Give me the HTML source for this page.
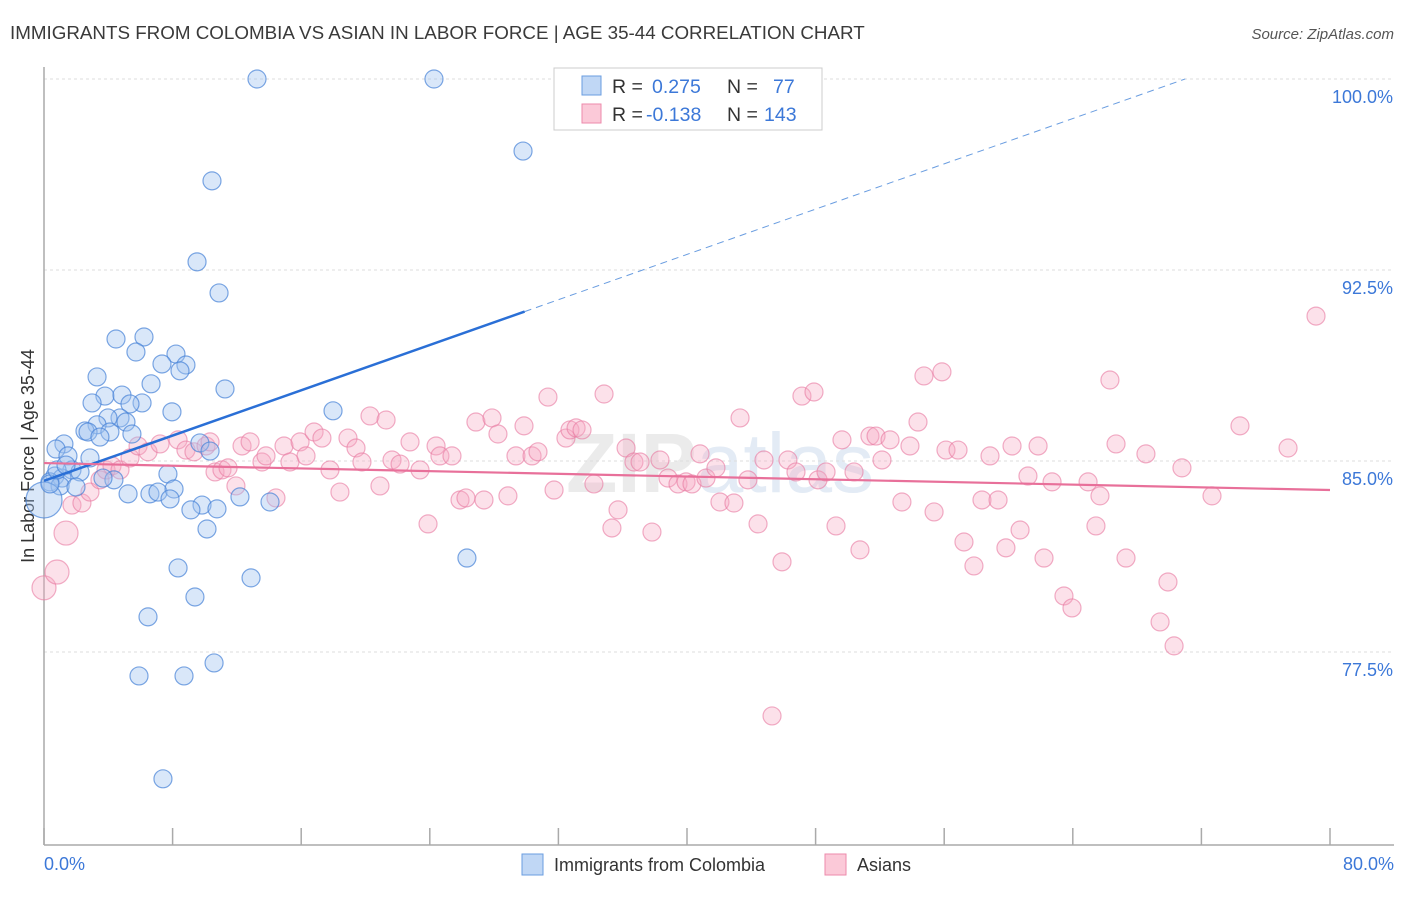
<!DOCTYPE html>
<html><head><meta charset="utf-8"><style>
body{margin:0;background:#fff;font-family:"Liberation Sans",sans-serif;}
svg text{font-family:"Liberation Sans",sans-serif;}
</style></head><body>
<svg id="chart" width="1406" height="892" viewBox="0 0 1406 892" xmlns="http://www.w3.org/2000/svg">
<text x="10" y="39" font-size="18.8" fill="#3a3a3a">IMMIGRANTS FROM COLOMBIA VS ASIAN IN LABOR FORCE | AGE 35-44 CORRELATION CHART</text>
<text x="1394" y="39" font-size="15" fill="#555" text-anchor="end" font-style="italic">Source: ZipAtlas.com</text>
<text x="720" y="492" font-size="84" fill="#ebebeb" text-anchor="middle" font-weight="bold">ZIP<tspan font-weight="normal" fill="#e3ebf5">atlas</tspan></text>
<g id="grid"></g>
<line x1="44" y1="67" x2="44" y2="845" stroke="#aaa" stroke-width="1.5"/>
<line x1="44" y1="845" x2="1394" y2="845" stroke="#aaa" stroke-width="1.5"/>
<g id="ticks"></g>
<text transform="translate(34,456) rotate(-90)" font-size="18" fill="#333" text-anchor="middle">In Labor Force | Age 35-44</text>
<text x="44" y="870" font-size="18" fill="#3c78d8">0.0%</text>
<text x="1394" y="870" font-size="18" fill="#3c78d8" text-anchor="end">80.0%</text>
<g id="points-pink"></g>
<g id="points-blue"></g>
<g id="lines"></g>
<g>
<rect x="554" y="68" width="268" height="62" fill="#fff" stroke="#ccc"/>
<rect x="582" y="76" width="19" height="19" fill="#c0d7f5" stroke="#6a9de0"/>
<rect x="582" y="104" width="19" height="19" fill="#fbc9d8" stroke="#ec8aab"/>
<text x="612" y="93" font-size="19.5" fill="#333">R = <tspan x="652" fill="#3c78d8">0.275</tspan><tspan x="727" fill="#333">N =</tspan><tspan x="773" fill="#3c78d8">77</tspan></text>
<text x="612" y="121" font-size="19.5" fill="#333">R = <tspan x="646" fill="#3c78d8">-0.138</tspan><tspan x="727" fill="#333">N =</tspan><tspan x="764" fill="#3c78d8">143</tspan></text>
</g>
<rect x="522" y="854" width="21" height="21" fill="#c0d7f5" stroke="#6a9de0"/>
<text x="554" y="871" font-size="18" fill="#333">Immigrants from Colombia</text>
<rect x="825" y="854" width="21" height="21" fill="#fbc9d8" stroke="#ec8aab"/>
<text x="857" y="871" font-size="18" fill="#333">Asians</text>
</svg>
<script>
const yTicks=[100,92.5,85,77.5];
const yTickLabels=["100.0%","92.5%","85.0%","77.5%"];
const xTickVals=[0,8,16,24,32,40,48,56,64,72,80];
const blueX=[13.25,24.26,29.8,10.45,9.52,10.89,4.48,6.22,5.72,8.21,7.34,8.83,8.46,3.3,6.66,11.26,3.79,2.99,6.1,4.85,5.35,7.96,17.98,4.73,3.98,5.1,3.3,2.55,2.74,4.1,5.47,3.48,1.24,0.75,1.49,2.86,9.7,10.33,1.74,2.24,7.71,0.68,1.12,0.37,1.0,1.99,4.35,3.67,5.23,6.59,7.09,8.09,7.84,9.83,10.76,9.14,12.19,14.06,10.14,26.31,8.34,12.88,9.39,6.47,5.91,8.71,10.58,7.4,0,0.37,0.81,1.37];
const blueY=[100,100,97.17,96.0,92.82,91.6,89.79,89.87,89.28,89.2,88.81,88.77,88.54,88.3,88.03,87.83,87.55,87.28,87.28,87.59,87.24,86.93,86.97,86.69,86.69,86.53,86.42,86.18,86.14,86.14,86.06,85.94,85.67,85.47,85.2,85.12,85.71,85.39,84.65,84.57,84.49,84.41,84.33,84.18,84.02,83.98,84.26,84.33,83.71,83.71,83.78,83.9,83.51,83.27,83.12,83.08,83.59,83.39,82.33,81.19,80.8,80.41,79.66,78.88,76.56,76.56,77.07,72.52,83.47,84.1,84.65,84.84];
const pinkX=[0,0.81,1.37,1.74,2.36,2.86,3.48,3.86,4.23,4.73,5.35,5.85,6.47,7.22,8.34,8.83,9.33,10.08,10.33,10.64,11.07,11.45,11.94,12.32,12.82,13.56,13.81,14.43,14.93,15.3,15.93,16.3,16.8,17.29,17.79,18.41,18.91,19.41,19.78,20.28,20.9,21.28,21.65,22.15,22.77,23.39,23.89,24.39,24.63,25.38,25.88,26.25,26.87,27.37,27.87,28.24,28.86,29.36,29.86,30.36,30.73,31.35,31.73,32.47,32.72,33.1,33.47,34.21,34.84,35.33,35.71,36.21,36.7,37.08,37.82,38.32,38.82,39.44,39.94,40.31,40.81,41.18,41.8,42.05,42.92,43.3,43.79,44.42,44.79,45.29,45.91,46.28,46.78,47.15,47.9,48.15,48.65,49.27,49.64,50.39,50.76,51.38,51.76,52.13,52.63,53.37,53.87,54.37,54.74,55.37,55.86,56.11,56.86,57.23,57.85,58.35,58.85,59.35,59.84,60.22,60.72,61.21,61.84,62.21,62.71,63.45,63.95,64.95,65.44,65.69,66.31,66.69,67.31,68.55,69.43,69.92,70.3,70.79,72.66,74.4,77.39,79.13];
const pinkY=[80.02,80.64,82.17,83.27,83.35,83.78,84.26,84.65,84.81,84.65,85.12,85.59,85.36,85.67,85.83,85.43,85.36,85.59,85.75,84.57,84.65,84.73,84.02,85.59,85.75,84.96,85.2,83.55,85.59,84.96,85.75,85.2,86.14,85.9,84.65,83.78,85.9,85.51,84.96,86.77,84.02,86.61,85.04,84.88,85.75,84.65,82.53,85.59,85.2,85.2,83.47,83.55,86.53,83.47,86.69,86.06,83.63,85.2,86.38,85.2,85.36,87.51,83.86,85.9,86.22,86.3,86.22,84.1,87.63,82.37,83.08,85.51,84.96,84.96,82.21,85.04,84.33,84.1,84.18,84.1,85.28,84.33,84.73,83.39,83.35,86.69,84.26,82.53,85.04,74.99,81.04,85.04,84.57,87.55,87.71,84.26,84.57,82.45,85.83,84.57,81.51,85.98,85.98,85.04,85.83,83.39,85.59,86.53,88.34,83.0,88.5,85.43,85.43,81.82,80.88,83.47,85.2,83.47,81.59,85.59,82.29,84.41,85.59,81.19,84.18,79.7,79.23,84.18,82.45,83.63,88.18,85.67,81.19,85.28,78.68,80.25,77.74,84.73,83.63,86.38,85.51,90.69];
const blueFit={a:84.22,b:0.2223,solidEnd:29.9,dashEnd:71};
const pinkFit={a:84.92,b:-0.01325,end:80};
const NS="http://www.w3.org/2000/svg";
function xs(v){return 44+v/80*1286;}
function ys(v){return 79+(100-v)/7.5*191;}
function mk(tag,attrs,parent){const e=document.createElementNS(NS,tag);for(const k in attrs)e.setAttribute(k,attrs[k]);parent.appendChild(e);return e;}
const grid=document.getElementById('grid');
yTicks.forEach((t,i)=>{
 const l=mk('line',{x1:44,x2:1394,y1:ys(t),y2:ys(t),stroke:'#ddd','stroke-dasharray':'3,3'},grid);
 
 
 const tx=mk('text',{x:1393,y:ys(t)+24,'font-size':18,fill:'#3c78d8','text-anchor':'end'},grid);
 tx.textContent=yTickLabels[i];
 
 
});
const ticks=document.getElementById('ticks');
xTickVals.forEach(v=>{
 const l=mk('line',{x1:xs(v),x2:xs(v),y1:828,y2:845,stroke:'#aaa','stroke-width':1.5},ticks);
 
 
});
const pp=document.getElementById('points-pink');
pinkX.forEach((x,i)=>{
 const r=(i<3)?12:9;
 const c=mk('circle',{cx:xs(x),cy:ys(pinkY[i]),r:r,fill:'rgba(246,170,196,0.35)',stroke:'rgba(232,120,160,0.6)','stroke-width':1.2},pp);
 
 
});
const bp=document.getElementById('points-blue');
blueX.forEach((x,i)=>{
 const r=(i===68)?18:9;
 const c=mk('circle',{cx:xs(x),cy:ys(blueY[i]),r:r,fill:'rgba(160,196,240,0.4)',stroke:'rgba(70,130,215,0.7)','stroke-width':1.2},bp);
 
 
});
const lg=document.getElementById('lines');
let l1=mk('line',{x1:xs(0),y1:ys(blueFit.a),x2:xs(blueFit.solidEnd),y2:ys(blueFit.a+blueFit.b*blueFit.solidEnd),stroke:'#2a6fd6','stroke-width':2.5},lg);


let l2=mk('line',{x1:xs(blueFit.solidEnd),y1:ys(blueFit.a+blueFit.b*blueFit.solidEnd),x2:xs(blueFit.dashEnd),y2:ys(blueFit.a+blueFit.b*blueFit.dashEnd),stroke:'#6a9de0','stroke-width':1,'stroke-dasharray':'7,5'},lg);


let l3=mk('line',{x1:xs(0),y1:ys(pinkFit.a),x2:xs(pinkFit.end),y2:ys(pinkFit.a+pinkFit.b*pinkFit.end),stroke:'#e8709a','stroke-width':2.2},lg);


</script>
</body></html>
